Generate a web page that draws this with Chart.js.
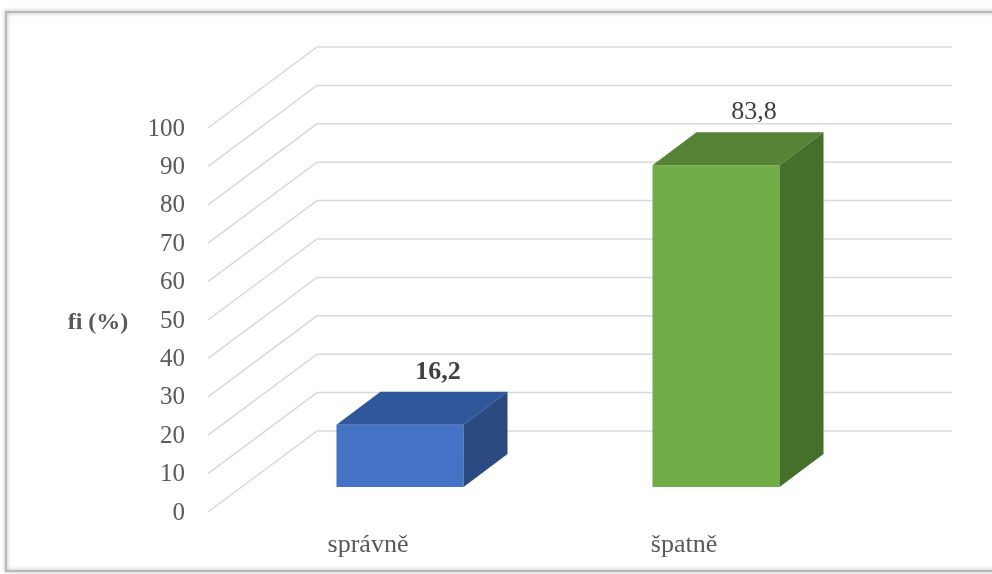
<!DOCTYPE html>
<html>
<head>
<meta charset="utf-8">
<script src="https://cdn.jsdelivr.net/npm/chart.js@4"></script>
<style>
  html, body { margin: 0; padding: 0; background: #fff; }
  #wrap { width: 992px; height: 574px; position: relative; }
</style>
</head>
<body>
<div id="wrap"><canvas id="chart" width="992" height="574"></canvas></div>
<script>
const categories = ['správně', 'špatně'];
const values = [16.2, 83.8];
const valueLabels = ['16,2', '83,8'];
const frontColors = ['#4472c4', '#70ad47'];
const topColors = ['#30579a', '#558235'];
const sideColors = ['#2b4a80', '#476f2c'];

// depth of the box and of the floor, in pixels
const barDepth = { dx: 44, dy: -33 };
const floorFront = { dy: 25 };   // from bar front plane down to the front edge
const floorBack = { dy: -56 };   // from bar front plane up to the back wall
const wallRight = 952;

const serif = '"Liberation Serif", "Times New Roman", serif';

const box3d = {
    id: 'box3d',
    beforeDraw(chart) {
        const ctx = chart.ctx;
        ctx.save();
        ctx.fillStyle = '#fff';
        ctx.fillRect(0, 0, chart.width, chart.height);
        // outer frame with a soft shadow
        ctx.shadowColor = 'rgba(0,0,0,0.35)';
        ctx.shadowBlur = 4;
        ctx.strokeStyle = '#b8b8b8';
        ctx.lineWidth = 2;
        ctx.strokeRect(6, 12, 1000, 559);
        ctx.restore();
    },
    beforeDatasetsDraw(chart) {
        const ctx = chart.ctx;
        const y = chart.scales.y;
        ctx.save();
        ctx.strokeStyle = '#d9d9d9';
        ctx.lineWidth = 1.5;
        y.ticks.forEach(t => {
            const py = y.getPixelForValue(t.value);
            ctx.beginPath();
            ctx.moveTo(208, py + floorFront.dy);
            ctx.lineTo(317, py + floorBack.dy);
            ctx.lineTo(wallRight, py + floorBack.dy);
            ctx.stroke();
        });
        ctx.restore();
    },
    afterDatasetsDraw(chart) {
        const ctx = chart.ctx;
        const meta = chart.getDatasetMeta(0);
        ctx.save();
        meta.data.forEach((bar, i) => {
            const half = bar.width / 2;
            const l = bar.x - half, r = bar.x + half;
            const top = bar.y, base = bar.base;
            // top face
            ctx.fillStyle = topColors[i];
            ctx.beginPath();
            ctx.moveTo(l, top);
            ctx.lineTo(l + barDepth.dx, top + barDepth.dy);
            ctx.lineTo(r + barDepth.dx, top + barDepth.dy);
            ctx.lineTo(r, top);
            ctx.closePath();
            ctx.fill();
            // side face
            ctx.fillStyle = sideColors[i];
            ctx.beginPath();
            ctx.moveTo(r, top);
            ctx.lineTo(r + barDepth.dx, top + barDepth.dy);
            ctx.lineTo(r + barDepth.dx, base + barDepth.dy);
            ctx.lineTo(r, base);
            ctx.closePath();
            ctx.fill();
            // value label
            ctx.fillStyle = '#404040';
            ctx.font = (i === 0 ? 'bold ' : '') + '26px ' + serif;
            ctx.textAlign = 'center';
            ctx.textBaseline = 'middle';
            ctx.fillText(valueLabels[i], bar.x + 38, top + barDepth.dy - 20);
        });
        // axis title
        ctx.fillStyle = '#595959';
        ctx.font = 'bold 24px ' + serif;
        ctx.textAlign = 'center';
        ctx.textBaseline = 'middle';
        ctx.fillText('fi (%)', 98, 323);
        ctx.restore();
    }
};

new Chart(
    document.getElementById('chart'),
    {
        type: 'bar',
        data: {
            labels: categories,
            datasets: [
                {
                    data: values,
                    backgroundColor: frontColors,
                    borderWidth: 0,
                    categoryPercentage: 1,
                    barPercentage: 0.402
                }
            ]
        },
        options: {
            responsive: false,
            animation: false,
            events: [],
            layout: { padding: { left: 0, right: 118, top: 103, bottom: 0 } },
            plugins: {
                legend: { display: false },
                tooltip: { enabled: false }
            },
            scales: {
                x: {
                    grid: { display: false, drawTicks: false },
                    border: { display: false },
                    afterFit: s => { s.height = 87; },
                    ticks: {
                        color: '#595959',
                        font: { family: serif, size: 26 },
                        padding: 43,
                        labelOffset: -32
                    }
                },
                y: {
                    min: 0,
                    max: 100,
                    grid: { display: false, drawTicks: false },
                    border: { display: false },
                    afterFit: s => { s.width = 242; },
                    ticks: {
                        stepSize: 10,
                        color: '#595959',
                        font: { family: serif, size: 25 },
                        padding: 57,
                        labelOffset: 26
                    }
                }
            }
        },
        plugins: [box3d]
    }
);
</script>
</body>
</html>
